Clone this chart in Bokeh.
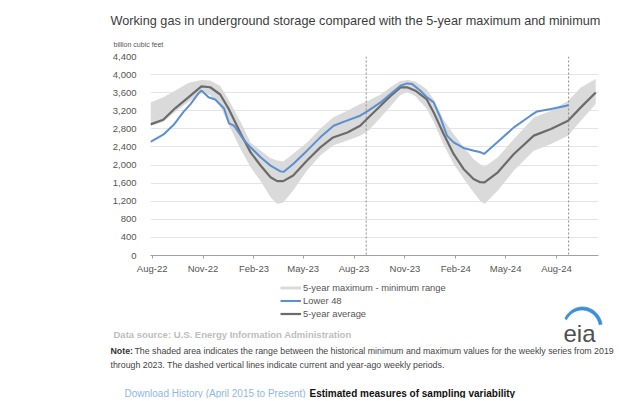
from datetime import datetime
import numpy as np
from bokeh.plotting import figure
from bokeh.layouts import column
from bokeh.models import (Range1d, DatetimeTickFormatter, FixedTicker, Span, Label,
                          Legend, LegendItem, NumeralTickFormatter)
from bokeh.embed import file_html
from bokeh.resources import INLINE

# ---------------- data ----------------
band_dates = ["2022-07-29", "2022-08-21", "2022-09-12", "2022-10-06", "2022-10-29", "2022-11-14",
              "2022-12-02", "2022-12-17", "2023-01-08", "2023-01-26", "2023-02-13", "2023-03-03",
              "2023-03-15", "2023-03-26", "2023-04-13", "2023-05-08", "2023-06-01", "2023-06-24",
              "2023-07-20", "2023-08-12", "2023-08-27", "2023-09-18", "2023-10-06", "2023-10-24",
              "2023-11-06", "2023-11-20", "2023-12-10", "2023-12-23", "2024-01-10", "2024-01-28",
              "2024-02-15", "2024-03-04", "2024-03-16", "2024-03-24", "2024-04-17", "2024-05-16",
              "2024-06-21", "2024-07-22", "2024-08-22", "2024-09-14", "2024-10-11"]
avg_5yr = [2900, 3000, 3260, 3500, 3740, 3720, 3560, 3250, 2700, 2280, 1990, 1730, 1645, 1645,
           1770, 2100, 2390, 2610, 2720, 2870, 3050, 3310, 3530, 3716, 3716, 3643, 3460, 3164,
           2687, 2245, 1914, 1693, 1620, 1618, 1840, 2245, 2650, 2797, 2981, 3275, 3606]
max_5yr = [3385, 3500, 3650, 3820, 3880, 3870, 3750, 3450, 2950, 2500, 2320, 2150, 2100, 2080,
           2250, 2500, 2800, 3050, 3200, 3350, 3420, 3560, 3720, 3860, 3880, 3850, 3680, 3450,
           3000, 2685, 2400, 2135, 2020, 1960, 2171, 2576, 3054, 3200, 3422, 3716, 3900]
min_5yr = [2870, 2950, 3180, 3400, 3590, 3550, 3300, 2900, 2350, 1950, 1650, 1290, 1140, 1170,
           1435, 1880, 2210, 2430, 2540, 2650, 2760, 3050, 3300, 3550, 3620, 3520, 3250, 2950,
           2450, 2024, 1700, 1400, 1210, 1141, 1435, 1877, 2318, 2466, 2650, 2981, 3349]

l48_dates = ["2022-07-29", "2022-08-21", "2022-09-09", "2022-09-27", "2022-10-09", "2022-10-24",
             "2022-10-29", "2022-11-11", "2022-11-23", "2022-12-09", "2022-12-18", "2022-12-27",
             "2023-01-14", "2023-01-26", "2023-02-13", "2023-03-03", "2023-03-21", "2023-03-27",
             "2023-04-13", "2023-05-08", "2023-06-01", "2023-06-25", "2023-07-19", "2023-08-12",
             "2023-08-27", "2023-09-18", "2023-10-06", "2023-10-24", "2023-11-05", "2023-11-14",
             "2023-11-29", "2023-12-11", "2023-12-23", "2024-01-04", "2024-01-16", "2024-01-28",
             "2024-02-15", "2024-03-05", "2024-03-17", "2024-03-23", "2024-04-16", "2024-05-16",
             "2024-06-15", "2024-06-27", "2024-07-22", "2024-08-19", "2024-08-23"]
lower48 = [2510, 2670, 2890, 3180, 3340, 3590, 3650, 3500, 3450, 3250, 2920, 2870,
           2550, 2392, 2171, 1987, 1860, 1850, 2024, 2318, 2612, 2870, 2981, 3091, 3202,
           3385, 3570, 3754, 3805, 3790, 3643, 3496, 3385,
           3054, 2650, 2502, 2378, 2318, 2281, 2245, 2502, 2833, 3091, 3186, 3239, 3312, 3330]

tick_dates = ["2022-08-01", "2022-11-01", "2023-02-01", "2023-05-01", "2023-08-01",
              "2023-11-01", "2024-02-01", "2024-05-01", "2024-08-01"]
y_ticks = list(range(0, 4401, 400))
marker_dates = ["2023-08-23", "2024-08-23"]
x_start, x_end = "2022-07-29", "2024-10-16"

legend_labels = ["5-year maximum - minimum range", "Lower 48", "5-year average"]

# ---------------- helpers ----------------
def d(s):
    return datetime.strptime(s, "%Y-%m-%d")

def ms(s):
    return (d(s) - datetime(1970, 1, 1)).total_seconds() * 1000.0

FONT = "Liberation Sans"
BAND = "#dadada"
AVG = "#6b6b6b"
BLUE = "#5b8fd0"
W = 638
TOP_H, MID_H, BOT_H = 50, 227, 121


def blank(h):
    f = figure(width=W, height=h, output_backend="svg", toolbar_location=None,
               x_axis_location=None, y_axis_location=None,
               x_range=Range1d(0, W), y_range=Range1d(0, h), frame_align=False)
    f.min_border = 0
    f.min_border_left = f.min_border_right = f.min_border_top = f.min_border_bottom = 0
    f.outline_line_color = None
    f.xgrid.visible = False
    f.ygrid.visible = False
    f.background_fill_color = "white"
    f.border_fill_color = "white"
    return f


def lab(fig, fig_top, fig_h, text, px, py, size, color, style="normal", align="left",
        baseline="middle"):
    fig.add_layout(Label(x=px, y=(fig_top + fig_h) - py, x_units="screen", y_units="screen",
                         text=text, text_font=FONT, text_font_size=size, text_color=color,
                         text_font_style=style, text_align=align, text_baseline=baseline))


# ---------------- top: title ----------------
top = blank(TOP_H)
lab(top, 0, TOP_H, "Working gas in underground storage compared with the 5-year maximum and minimum",
    110, 20, "12.7px", "#3c3c3c")
lab(top, 0, TOP_H, "billion cubic feet", 113, 44, "7px", "#555555")

# ---------------- middle: chart ----------------
p = figure(width=W, height=MID_H, x_axis_type="datetime", output_backend="svg",
           toolbar_location=None, x_range=Range1d(d(x_start), d(x_end)),
           y_range=Range1d(0, 4400), frame_align=False)
p.min_border_left = 150
p.min_border_right = W - 598
p.min_border_top = 6
p.min_border_bottom = 22
p.outline_line_color = None
p.background_fill_color = "white"
p.border_fill_color = "white"

p.varea(x=[d(s) for s in band_dates], y1=min_5yr, y2=max_5yr, fill_color=BAND)
p.line([d(s) for s in band_dates], avg_5yr, line_color=AVG, line_width=2.2)
p.line([d(s) for s in l48_dates], lower48, line_color=BLUE, line_width=2)

for s in marker_dates:
    p.add_layout(Span(location=ms(s), dimension="height", line_color="#8a8a8a",
                      line_width=1, line_dash="2 2"))

p.xgrid.visible = False
p.ygrid.grid_line_color = "#e4e4e4"
p.ygrid.ticker = FixedTicker(ticks=y_ticks)

p.xaxis.ticker = FixedTicker(ticks=[ms(s) for s in tick_dates])
p.xaxis.formatter = DatetimeTickFormatter(days="%b-%y", months="%b-%y", years="%b-%y")
p.xaxis.axis_line_color = "#a0a0a0"
p.xaxis.major_tick_line_color = "#a0a0a0"
p.xaxis.major_tick_in = 0
p.xaxis.major_tick_out = 3
p.xaxis.minor_tick_line_color = None
p.xaxis.major_label_standoff = 4
p.xaxis.major_label_text_font = FONT
p.xaxis.major_label_text_font_size = "9.5px"
p.xaxis.major_label_text_color = "#555555"

p.yaxis.ticker = FixedTicker(ticks=y_ticks)
p.yaxis.formatter = NumeralTickFormatter(format="0,0")
p.yaxis.axis_line_color = None
p.yaxis.major_tick_line_color = None
p.yaxis.minor_tick_line_color = None
p.yaxis.major_label_standoff = 8
p.yaxis.major_label_text_font = FONT
p.yaxis.major_label_text_font_size = "9.5px"
p.yaxis.major_label_text_color = "#555555"

# ---------------- bottom: legend, notes, logo ----------------
BOT_TOP = TOP_H + MID_H
base = BOT_TOP + BOT_H
bot = blank(BOT_H)

# eia logo swoosh: crescent drawn on the overlay level (panel ranges are in pixels)
th_o = np.linspace(np.radians(152), np.radians(12), 40)
th_i = th_o[::-1]
sw_x = list(582 + 20 * np.cos(th_o)) + list(581.5 + 17.5 * np.cos(th_i))
sw_y = list(base - (328 - 21.5 * np.sin(th_o))) + list(base - (328 - 18.5 * np.sin(th_i)))
bot.patch(sw_x, sw_y, fill_color="#3d8fd8", line_color="#3d8fd8", line_width=0.8,
          level="overlay")

# legend proxies: kept outside the visible range of this panel
r_band = bot.line(x=[-50, -40], y=[-50, -40], line_color=BAND, line_width=3)
r_l48 = bot.line(x=[-50, -40], y=[-50, -40], line_color=BLUE, line_width=2)
r_avg = bot.line(x=[-50, -40], y=[-50, -40], line_color=AVG, line_width=2.2)
legend = Legend(items=[LegendItem(label=legend_labels[0], renderers=[r_band]),
                       LegendItem(label=legend_labels[1], renderers=[r_l48]),
                       LegendItem(label=legend_labels[2], renderers=[r_avg])],
                location=(280, base - 318.5), orientation="vertical",
                padding=0, margin=0, spacing=2,
                glyph_width=21, glyph_height=11, label_height=11, label_standoff=2,
                label_text_font=FONT, label_text_font_size="9.4px", label_text_color="#555555",
                border_line_color=None, background_fill_alpha=0)
bot.add_layout(legend)

B = (bot, BOT_TOP, BOT_H)
lab(*B, "Data source: U.S. Energy Information Administration", 113, 334, "9.5px", "#bdbdbd",
    style="bold")
lab(*B, "Note:", 110, 350, "8.8px", "#333333", style="bold")
lab(*B, "The shaded area indicates the range between the historical minimum and maximum values "
    "for the weekly series from 2019", 134, 350, "8.8px", "#444444")
lab(*B, "through 2023. The dashed vertical lines indicate current and year-ago weekly periods.",
    110, 364, "8.8px", "#444444")
lab(*B, "Download History (April 2015 to Present)", 124, 393, "10px", "#8fb6e3")
lab(*B, "Estimated measures of sampling variability", 309, 393, "10px", "#111111", style="bold")
lab(*B, "eia", 579, 333, "24px", "#4f4f4f", align="center", baseline="alphabetic")

layout = column(top, p, bot, spacing=0)
open("out.html", "w").write(file_html(layout, INLINE))
